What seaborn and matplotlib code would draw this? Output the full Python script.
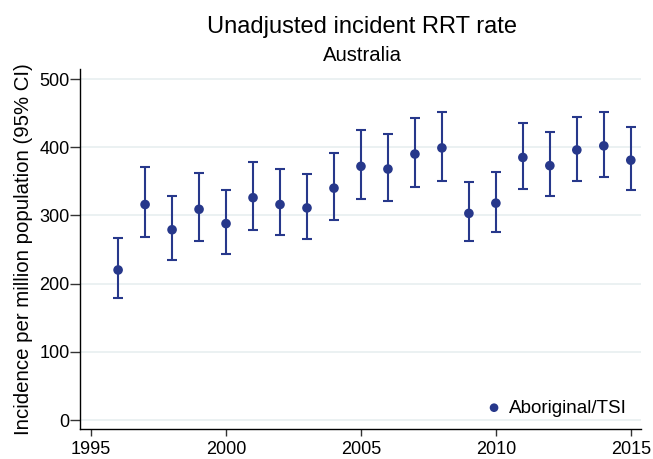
import numpy as np
import pandas as pd
import seaborn as sns
import matplotlib.pyplot as plt

years = list(range(1996, 2016))
rate = [220, 316, 279, 309, 288, 326, 316, 311, 340, 372,
        368, 390, 399, 303, 318, 385, 373, 396, 402, 381]
lower = [179, 268, 234, 262, 244, 278, 271, 266, 294, 324,
         321, 342, 351, 262, 276, 339, 329, 350, 357, 338]
upper = [267, 371, 329, 362, 338, 378, 368, 360, 392, 425,
         420, 443, 452, 349, 364, 435, 422, 445, 451, 429]

df = pd.DataFrame({"Year": years, "Rate": rate, "Lower": lower, "Upper": upper})

navy = "#27388b"
grid_col = "#e6eeef"

sns.set_style("white")
plt.rcParams["font.family"] = ["Liberation Sans", "DejaVu Sans"]
plt.rcParams["text.color"] = "black"
plt.rcParams["axes.labelcolor"] = "black"
plt.rcParams["xtick.color"] = "black"
plt.rcParams["ytick.color"] = "black"

fig = plt.figure(figsize=(6.53, 4.59), dpi=100)
ax = fig.add_axes([0.123, 0.0647, 0.8587, 0.785])

for v in [0, 100, 200, 300, 400, 500]:
    ax.axhline(v, color=grid_col, lw=1.1, zorder=0)

ax.errorbar(df["Year"], df["Rate"],
            yerr=[df["Rate"] - df["Lower"], df["Upper"] - df["Rate"]],
            fmt="none", ecolor=navy, elinewidth=1.5, capsize=3.8, capthick=1.5, zorder=2)
sns.scatterplot(data=df, x="Year", y="Rate", color=navy, s=48, edgecolor="none",
                label="Aboriginal/TSI", ax=ax, zorder=3)

ax.set_xlim(1994.6, 2015.38)
ax.set_ylim(-13.6, 514.7)
ax.set_xticks([1995, 2000, 2005, 2010, 2015])
ax.set_yticks([0, 100, 200, 300, 400, 500])
ax.tick_params(axis="x", length=5, width=1, color="#333333", labelsize=13, pad=3.3)
ax.tick_params(axis="y", length=7, width=1, color="#333333", labelsize=13, pad=0.6)
ax.tick_params(bottom=True, left=True)
for s in ["top", "right"]:
    ax.spines[s].set_visible(False)
for s in ["left", "bottom"]:
    ax.spines[s].set_color("black")
    ax.spines[s].set_linewidth(1.0)

ax.set_xlabel("")
ax.set_ylabel("Incidence per million population (95% CI)", fontsize=14.7)
ax.yaxis.set_label_coords(-0.084, 0.5)

leg = ax.legend(loc="center right", bbox_to_anchor=(0.975, 0.059), frameon=False,
                fontsize=13.6, handlelength=1.0, handletextpad=0.3,
                borderaxespad=0, borderpad=0, markerscale=0.9)

fig.text(0.555, 0.928, "Unadjusted incident RRT rate", ha="center", va="baseline", fontsize=17)
fig.text(0.555, 0.867, "Australia", ha="center", va="baseline", fontsize=14.6)

fig.savefig("out.png", dpi=100)
